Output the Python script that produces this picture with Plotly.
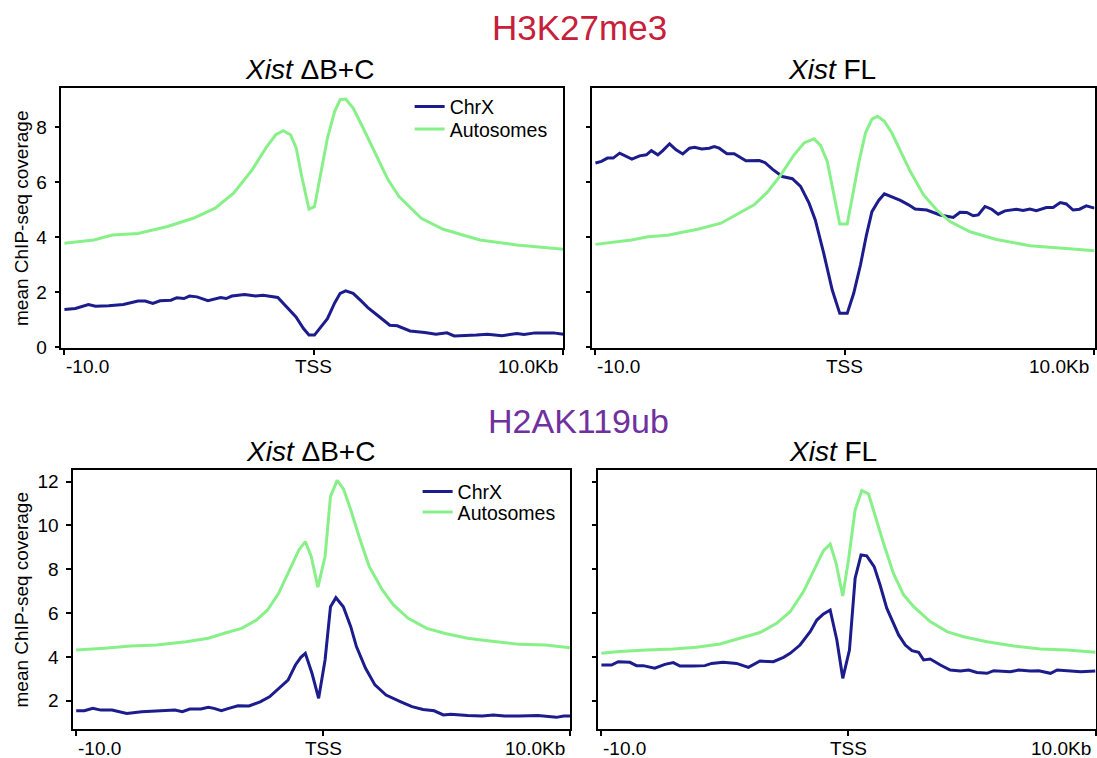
import plotly.graph_objects as go

# ---------------- data (positions in kb relative to TSS) ----------------
series_names = ["ChrX", "Autosomes"]
mark_titles = ["H3K27me3", "H2AK119ub"]
panel_titles = ["<i>Xist</i> ΔB+C", "<i>Xist</i> FL"]
x_tick_vals = [-10, 0, 10]
x_tick_labels = ["-10.0", "TSS", "10.0Kb"]
y_title = "mean ChIP-seq coverage"

# H3K27me3, Xist dB+C
h3_dbc_chrx_x = [-10.00, -9.56, -9.04, -8.75, -8.23, -7.64, -7.05, -6.76, -6.46, -6.17, -5.73, -5.50,
                 -5.21, -4.99, -4.69, -4.25, -3.74, -3.52, -3.29, -2.78, -2.34, -2.04, -1.45, -1.16,
                 -0.72, -0.42, -0.20, 0.02, 0.24, 0.54, 0.83, 1.05, 1.27, 1.57, 1.86, 2.16, 2.53,
                 3.04, 3.34, 3.85, 4.44, 4.89, 5.33, 5.62, 6.51, 6.95, 7.54, 8.13, 8.42, 8.86, 9.60, 10.00]
h3_dbc_chrx_y = [1.36, 1.40, 1.54, 1.48, 1.50, 1.54, 1.67, 1.67, 1.58, 1.68, 1.70, 1.79,
                 1.76, 1.85, 1.82, 1.68, 1.80, 1.76, 1.85, 1.91, 1.85, 1.88, 1.80, 1.52,
                 1.09, 0.67, 0.43, 0.43, 0.67, 1.03, 1.60, 1.95, 2.04, 1.95, 1.70, 1.43, 1.16,
                 0.79, 0.77, 0.58, 0.52, 0.46, 0.51, 0.40, 0.43, 0.46, 0.41, 0.49, 0.45, 0.51, 0.51, 0.46]
h3_dbc_auto_x = [-10.00, -8.82, -8.08, -7.05, -5.87, -4.84, -3.96, -3.22, -2.48, -1.89, -1.53, -1.23,
                 -0.94, -0.71, -0.49, -0.20, 0.02, 0.24, 0.54, 0.83, 1.05, 1.27, 1.57, 1.94, 2.38,
                 2.97, 3.41, 4.30, 5.18, 6.65, 8.13, 10.00]
h3_dbc_auto_y = [3.77, 3.89, 4.07, 4.13, 4.38, 4.68, 5.05, 5.59, 6.44, 7.29, 7.72, 7.87,
                 7.72, 7.23, 6.20, 5.01, 5.10, 6.20, 7.60, 8.57, 9.00, 9.02, 8.69, 8.02, 7.17,
                 6.08, 5.47, 4.68, 4.28, 3.89, 3.71, 3.55]

# H3K27me3, Xist FL
h3_fl_chrx_x = [-10.00, -9.76, -9.52, -9.29, -9.03, -8.54, -8.23, -7.96, -7.76, -7.50, -7.30, -7.03,
                -6.77, -6.50, -6.23, -6.03, -5.74, -5.44, -5.24, -5.04, -4.73, -4.44, -3.97, -3.44,
                -3.21, -2.91, -2.51, -2.11, -1.78, -1.44, -1.19, -0.85, -0.51, -0.21, 0.09, 0.35,
                0.62, 0.86, 1.08, 1.35, 1.58, 1.88, 2.22, 2.55, 2.81, 3.28, 3.81, 4.34, 4.61, 4.88,
                5.14, 5.34, 5.61, 5.88, 6.14, 6.41, 6.87, 7.14, 7.41, 7.67, 8.07, 8.34, 8.63, 8.87,
                9.14, 9.40, 9.67, 10.00]
h3_fl_chrx_y = [6.69, 6.75, 6.87, 6.87, 7.05, 6.83, 6.95, 6.99, 7.14, 6.99, 7.14, 7.39,
                7.17, 7.02, 7.23, 7.26, 7.20, 7.23, 7.29, 7.23, 7.03, 7.03, 6.77, 6.78,
                6.71, 6.47, 6.20, 6.12, 5.84, 5.23, 4.62, 3.40, 2.07, 1.22, 1.22, 1.95,
                2.98, 4.07, 4.92, 5.33, 5.57, 5.47, 5.33, 5.17, 5.02, 4.98, 4.80, 4.71, 4.90, 4.89,
                4.77, 4.80, 5.11, 5.01, 4.83, 4.95, 5.01, 4.96, 5.02, 4.96, 5.07, 5.07, 5.25, 5.20,
                4.98, 5.01, 5.13, 5.05]
h3_fl_auto_x = [-10.00, -9.23, -8.56, -7.90, -7.10, -6.57, -5.90, -4.97, -4.30, -3.64, -3.11, -2.57,
                -2.04, -1.64, -1.24, -0.98, -0.71, -0.45, -0.21, 0.09, 0.29, 0.55, 0.82, 1.08,
                1.31, 1.58, 1.88, 2.22, 2.62, 3.15, 3.68, 4.21, 5.01, 6.07, 7.41, 8.74, 10.00]
h3_fl_auto_y = [3.73, 3.82, 3.89, 4.01, 4.06, 4.16, 4.28, 4.50, 4.83, 5.17, 5.63, 6.26,
                6.99, 7.42, 7.57, 7.33, 6.75, 5.59, 4.47, 4.47, 5.47, 6.69, 7.78, 8.29,
                8.39, 8.21, 7.78, 7.11, 6.38, 5.53, 4.98, 4.56, 4.19, 3.91, 3.68, 3.59, 3.50]

# H2AK119ub, Xist dB+C
h2_dbc_chrx_x = [-10.00, -9.67, -9.33, -9.00, -8.55, -7.95, -7.35, -6.60, -6.00, -5.70, -5.40, -4.95,
                 -4.65, -4.42, -4.12, -3.82, -3.45, -3.00, -2.55, -2.17, -1.80, -1.42, -1.12, -0.90,
                 -0.72, -0.45, -0.18, 0.08, 0.30, 0.52, 0.82, 1.12, 1.35, 1.72, 2.10, 2.55, 3.15,
                 3.60, 4.05, 4.50, 4.87, 5.17, 5.85, 6.45, 6.90, 7.35, 7.95, 8.70, 9.45, 9.75, 10.00]
h2_dbc_chrx_y = [1.54, 1.54, 1.65, 1.57, 1.57, 1.42, 1.50, 1.54, 1.57, 1.50, 1.62, 1.62,
                 1.70, 1.65, 1.54, 1.65, 1.77, 1.76, 1.95, 2.18, 2.56, 2.94, 3.63, 3.98,
                 4.16, 3.25, 2.11, 3.86, 6.29, 6.70, 6.29, 5.38, 4.47, 3.48, 2.72, 2.26, 1.95,
                 1.73, 1.60, 1.54, 1.35, 1.38, 1.32, 1.30, 1.35, 1.30, 1.30, 1.32, 1.24, 1.30, 1.30]
h2_dbc_auto_x = [-10.00, -8.85, -7.80, -6.75, -5.55, -4.65, -3.90, -3.30, -2.70, -2.25, -1.80, -1.35,
                 -0.98, -0.72, -0.48, -0.21, 0.08, 0.30, 0.57, 0.83, 1.12, 1.50, 1.87, 2.40, 2.85,
                 3.45, 4.20, 4.95, 5.85, 6.75, 7.95, 9.00, 10.00]
h2_dbc_auto_y = [4.31, 4.39, 4.50, 4.54, 4.69, 4.85, 5.11, 5.30, 5.68, 6.14, 6.90, 7.97,
                 8.88, 9.26, 8.58, 7.18, 8.58, 11.32, 12.05, 11.65, 10.71, 9.34, 8.12, 7.05, 6.37,
                 5.76, 5.30, 5.07, 4.85, 4.72, 4.57, 4.54, 4.42]

# H2AK119ub, Xist FL
h2_fl_chrx_x = [-10.00, -9.59, -9.32, -8.85, -8.58, -8.31, -7.84, -7.43, -7.09, -6.82, -6.28, -5.81,
                -5.54, -5.07, -4.53, -4.05, -3.58, -3.04, -2.63, -2.36, -1.96, -1.55, -1.28, -1.01,
                -0.74, -0.47, -0.23, 0.04, 0.27, 0.51, 0.74, 1.04, 1.28, 1.55, 2.03, 2.30, 2.57,
                2.84, 3.04, 3.31, 3.72, 4.12, 4.53, 4.87, 5.20, 5.61, 5.88, 6.55, 6.89, 7.36, 7.70,
                8.18, 8.45, 8.99, 9.40, 10.00]
h2_fl_chrx_y = [3.63, 3.63, 3.78, 3.75, 3.60, 3.60, 3.48, 3.66, 3.74, 3.58, 3.58, 3.60,
                3.70, 3.75, 3.70, 3.52, 3.81, 3.78, 3.98, 4.16, 4.54, 5.15, 5.68, 5.96,
                6.14, 4.77, 3.02, 4.31, 7.59, 8.65, 8.61, 8.12, 7.28, 6.22, 5.00, 4.54, 4.28,
                4.21, 3.86, 3.90, 3.63, 3.40, 3.35, 3.40, 3.29, 3.25, 3.37, 3.32, 3.40, 3.35, 3.37,
                3.25, 3.40, 3.37, 3.32, 3.35]
h2_fl_auto_x = [-10.00, -9.26, -8.18, -7.09, -6.15, -5.20, -4.39, -3.58, -2.91, -2.36, -1.82, -1.42,
                -1.01, -0.74, -0.50, -0.23, 0.00, 0.27, 0.54, 0.81, 1.08, 1.42, 1.82, 2.23, 2.64,
                3.31, 3.99, 4.66, 5.61, 6.69, 7.77, 8.85, 10.00]
h2_fl_auto_y = [4.16, 4.24, 4.31, 4.36, 4.44, 4.59, 4.85, 5.11, 5.53, 6.06, 6.98, 7.89,
                8.85, 9.15, 8.27, 6.78, 8.42, 10.71, 11.59, 11.44, 10.40, 9.18, 7.81, 6.83, 6.29,
                5.61, 5.15, 4.92, 4.69, 4.50, 4.36, 4.31, 4.21]

h3_y_ticks = [0, 2, 4, 6, 8]
h2_y_ticks = [2, 4, 6, 8, 10, 12]

# ---------------- styling ----------------
IMG_W, IMG_H = 1097, 758      # target picture size
W, H = 1097, 768              # figure size (the capture is slightly taller than the picture)
FONT = "Liberation Sans, Arial, Helvetica, sans-serif"
CHRX_COLOR = "#1c1c8c"
AUTO_COLOR = "#88f088"
RED = "#c7203a"
PURPLE = "#7030a0"


def px_x(p):
    return p / IMG_W


def px_y(p):
    return 1 - p / IMG_H


def legend_y(center):
    # legend top placed so that the single entry is centred at `center`
    return px_y(center) + 19 / H


# panel boxes in picture pixels: (left, right, top, bottom)
boxes = {
    "": (61.5, 564.0, 88.0, 348.0),
    "2": (593.0, 1095.5, 88.0, 348.0),
    "3": (73.3, 570.5, 469.7, 729.3),
    "4": (599.0, 1096.5, 469.7, 729.3),
}

fig = go.Figure()

# (axis suffix, chrX x, chrX y, autosome x, autosome y, legend for chrX, legend for autosomes, show)
panels = [
    ("", h3_dbc_chrx_x, h3_dbc_chrx_y, h3_dbc_auto_x, h3_dbc_auto_y, "legend", "legend3", True),
    ("2", h3_fl_chrx_x, h3_fl_chrx_y, h3_fl_auto_x, h3_fl_auto_y, "legend", "legend3", False),
    ("3", h2_dbc_chrx_x, h2_dbc_chrx_y, h2_dbc_auto_x, h2_dbc_auto_y, "legend2", "legend4", True),
    ("4", h2_fl_chrx_x, h2_fl_chrx_y, h2_fl_auto_x, h2_fl_auto_y, "legend2", "legend4", False),
]

for suf, cx, cy, ax_, ay, leg_c, leg_a, show in panels:
    fig.add_trace(go.Scatter(x=cx, y=cy, mode="lines", name=series_names[0],
                             line=dict(color=CHRX_COLOR, width=3),
                             xaxis="x" + suf, yaxis="y" + suf, legend=leg_c, showlegend=show))
    fig.add_trace(go.Scatter(x=ax_, y=ay, mode="lines", name=series_names[1],
                             line=dict(color=AUTO_COLOR, width=3),
                             xaxis="x" + suf, yaxis="y" + suf, legend=leg_a, showlegend=show))

leg_common = dict(xanchor="left", yanchor="top", bgcolor="rgba(0,0,0,0)",
                  font=dict(size=19.5, family=FONT, color="black"))
layout = dict(
    width=W, height=H,
    margin=dict(l=0, r=0, t=0, b=0),
    paper_bgcolor="white", plot_bgcolor="white",
    font=dict(family=FONT, color="black", size=17),
    legend=dict(x=px_x(410), y=legend_y(106), **leg_common),
    legend3=dict(x=px_x(410), y=legend_y(128.5), **leg_common),
    legend2=dict(x=px_x(418), y=legend_y(491), **leg_common),
    legend4=dict(x=px_x(418), y=legend_y(511.5), **leg_common),
)

for suf, (l, r, t, b) in boxes.items():
    is_top = suf in ("", "2")
    is_left = suf in ("", "3")
    layout["xaxis" + suf] = dict(
        domain=[px_x(l), min(1.0, px_x(r))], range=[-10.12, 10.0], anchor="y" + suf,
        tickvals=x_tick_vals, ticktext=["", "", ""], ticks="outside", ticklen=5,
        tickwidth=1.5, tickcolor="black",
        showline=True, linecolor="black", linewidth=1.5, mirror=True,
        showgrid=False, zeroline=False, fixedrange=True,
    )
    layout["yaxis" + suf] = dict(
        domain=[px_y(b), px_y(t)],
        range=[-0.04, 9.42] if is_top else [0.695, 12.54],
        anchor="x" + suf,
        tickvals=h3_y_ticks if is_top else h2_y_ticks,
        ticks="outside", ticklen=5, tickwidth=1.5, tickcolor="black",
        showticklabels=is_left, tickfont=dict(size=19, family=FONT), ticklabelstandoff=4,
        showline=True, linecolor="black", linewidth=1.5, mirror=True,
        showgrid=False, zeroline=False, fixedrange=True,
    )

fig.update_layout(**layout)

annotations = []
# big mark titles
annotations.append(dict(text=mark_titles[0], x=px_x(580), y=px_y(28), xref="paper", yref="paper",
                        showarrow=False, xanchor="center", yanchor="middle",
                        font=dict(size=35, color=RED, family=FONT)))
annotations.append(dict(text=mark_titles[1], x=px_x(579), y=px_y(421), xref="paper", yref="paper",
                        showarrow=False, xanchor="center", yanchor="middle",
                        font=dict(size=34, color=PURPLE, family=FONT)))

title_pos = {"": (310, 70), "2": (833, 70), "3": (311, 451), "4": (834, 451)}
tick_y = {"": 366, "2": 366, "3": 748, "4": 748}
for i, (suf, (l, r, t, b)) in enumerate(boxes.items()):
    tx, ty = title_pos[suf]
    annotations.append(dict(text=panel_titles[i % 2], x=px_x(tx), y=px_y(ty),
                            xref="paper", yref="paper", showarrow=False,
                            xanchor="center", yanchor="middle",
                            font=dict(size=28, color="black", family=FONT)))
    anchors = ["left", "center", "right"]
    for v, lab, anc in zip(x_tick_vals, x_tick_labels, anchors):
        annotations.append(dict(text=lab, x=v, y=px_y(tick_y[suf]), xref="x" + suf, yref="paper",
                                showarrow=False, xanchor=anc, yanchor="middle",
                                xshift=(-3 if anc == "right" else 0),
                                font=dict(size=19, color="black", family=FONT)))

# y-axis titles
for suf in ("", "3"):
    l, r, t, b = boxes[suf]
    annotations.append(dict(text=y_title, x=px_x(22), y=px_y((t + b) / 2), xref="paper", yref="paper",
                            showarrow=False, textangle=-90, xanchor="center", yanchor="middle",
                            font=dict(size=19, color="black", family=FONT)))

fig.update_layout(annotations=annotations)

# remove the default page margin so the figure fills the window exactly
page_css = ("document.documentElement.style.margin='0';document.documentElement.style.overflow='hidden';"
            "document.body.style.margin='0';document.body.style.overflow='hidden';")
fig.write_html("out.html", post_script=page_css, config={"displayModeBar": False})
